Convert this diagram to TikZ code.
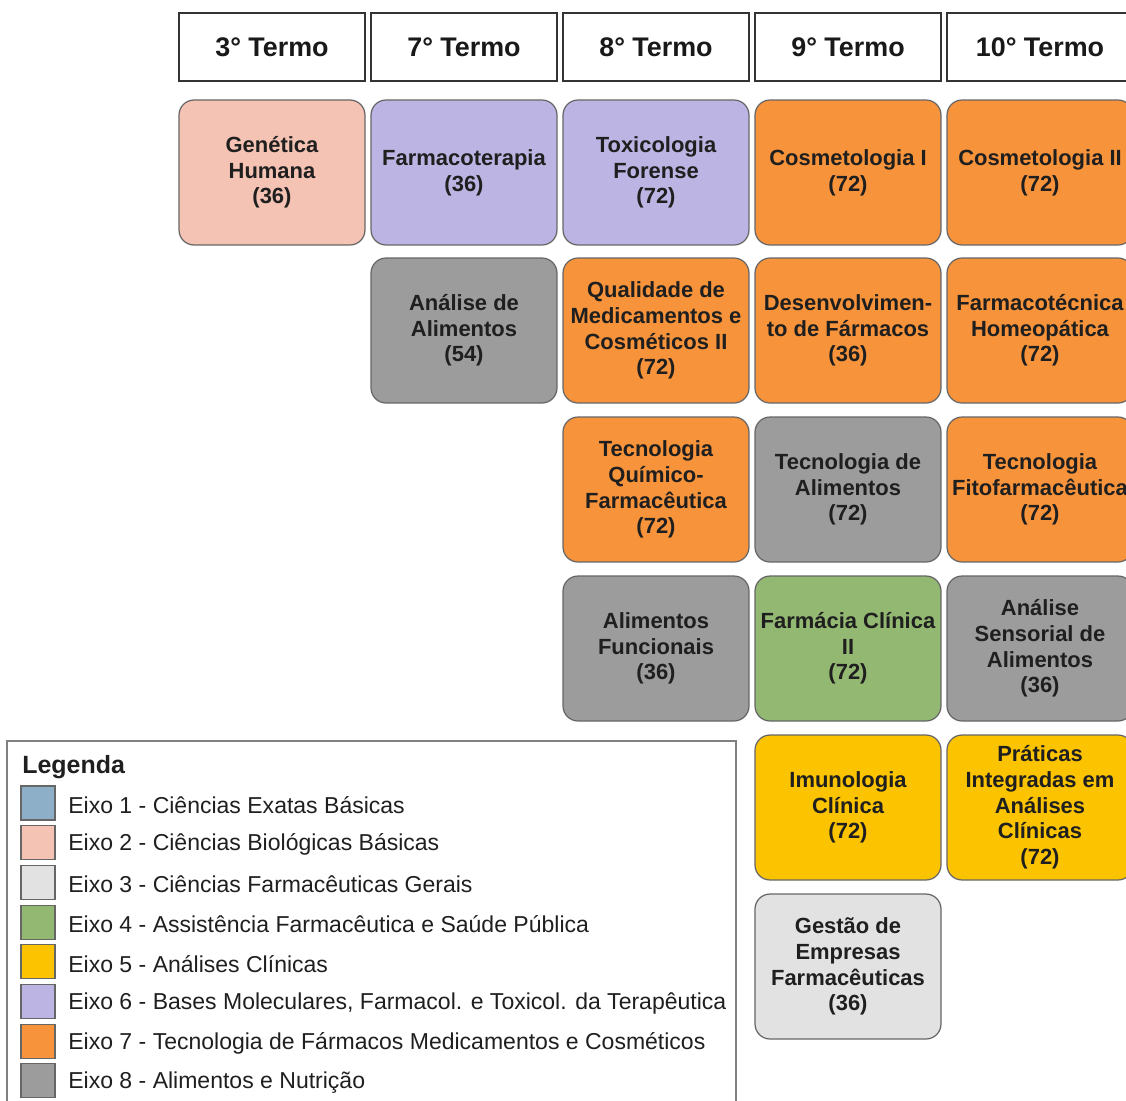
\documentclass[tikz,border=0pt]{standalone}
\usepackage{fontspec}
\setmainfont{Liberation Sans}
\usepackage{xcolor}
\usepackage{tikz}
\usetikzlibrary{calc}

\definecolor{eixoazul}{HTML}{8EAFC8}
\definecolor{eixorosa}{HTML}{F5C3B3}
\definecolor{eixoclaro}{HTML}{E2E2E2}
\definecolor{eixoverde}{HTML}{93B872}
\definecolor{eixoamarelo}{HTML}{FBC300}
\definecolor{eixolilas}{HTML}{BCB5E3}
\definecolor{eixolaranja}{HTML}{F7933B}
\definecolor{eixocinza}{HTML}{9C9C9C}

\begin{document}
\begin{tikzpicture}[x=0.02cm,y=-0.02cm,
    termo/.style={draw=black!80, line width=1.3pt, fill=white, minimum width=3.72cm, minimum height=1.36cm, inner sep=0pt, font=\fontsize{15.3}{18}\selectfont\bfseries, text=black!90},
    disc/.style={draw=black!60, line width=0.7pt, rounded corners=0.3cm, minimum width=3.72cm, minimum height=2.9cm, inner sep=0pt, align=center, font=\fontsize{12.5}{14.6}\selectfont\bfseries, text=black!88},
    swatch/.style={draw=black!60, line width=0.6pt, minimum size=0.68cm, inner sep=0pt},
    legtxt/.style={anchor=west, inner sep=0pt, font=\fontsize{13.1}{15}\selectfont, text=black!88}]
        %AREA
        \useasboundingbox (0,0) rectangle (1126,1100);
        \clip (0,0) rectangle (1126,1100);
        %TERMOS
        \node[termo] (t3) at (272,47) {3° Termo};
        \node[termo] (t7) at (464,47) {7° Termo};
        \node[termo] (t8) at (656,47) {8° Termo};
        \node[termo] (t9) at (848,47) {9° Termo};
        \node[termo] (t10) at (1040,47) {10° Termo};
        %3 TERMO
        \node[disc, fill=eixorosa] (genetica) at (272,172.5) {Genética\\Humana\\(36)};
        %7 TERMO
        \node[disc, fill=eixolilas] (farmacoterapia) at (464,172.5) {Farmacoterapia\\(36)};
        \node[disc, fill=eixocinza] (analise) at (464,330.5) {Análise de\\Alimentos\\(54)};
        %8 TERMO
        \node[disc, fill=eixolilas] (toxicologia) at (656,172.5) {Toxicologia\\Forense\\(72)};
        \node[disc, fill=eixolaranja] (qualidade) at (656,330.5) {Qualidade de\\Medicamentos e\\Cosméticos II\\(72)};
        \node[disc, fill=eixolaranja] (quimico) at (656,489.5) {Tecnologia\\Químico-\\Farmacêutica\\(72)};
        \node[disc, fill=eixocinza] (funcionais) at (656,648.5) {Alimentos\\Funcionais\\(36)};
        %9 TERMO
        \node[disc, fill=eixolaranja] (cosmetoI) at (848,172.5) {Cosmetologia I\\(72)};
        \node[disc, fill=eixolaranja] (desenv) at (848,330.5) {Desenvolvimen-\\to de Fármacos\\(36)};
        \node[disc, fill=eixocinza] (tecalim) at (848,489.5) {Tecnologia de\\Alimentos\\(72)};
        \node[disc, fill=eixoverde] (clinica) at (848,648.5) {Farmácia Clínica\\II\\(72)};
        \node[disc, fill=eixoamarelo] (imuno) at (848,807.5) {Imunologia\\Clínica\\(72)};
        \node[disc, fill=eixoclaro] (gestao) at (848,966.5) {Gestão de\\Empresas\\Farmacêuticas\\(36)};
        %10 TERMO
        \node[disc, fill=eixolaranja] (cosmetoII) at (1040,172.5) {Cosmetologia II\\(72)};
        \node[disc, fill=eixolaranja] (homeo) at (1040,330.5) {Farmacotécnica\\Homeopática\\(72)};
        \node[disc, fill=eixolaranja] (fito) at (1040,489.5) {Tecnologia\\Fitofarmacêutica\\(72)};
        \node[disc, fill=eixocinza] (sensorial) at (1040,648.5) {Análise\\Sensorial de\\Alimentos\\(36)};
        \node[disc, fill=eixoamarelo] (praticas) at (1040,807.5) {Práticas\\Integradas em\\Análises\\Clínicas\\(72)};
        %LEGENDA
        \draw[black!50, line width=0.6pt] (7,741) rectangle (736,1120);
        \node[anchor=west, inner sep=0pt, font=\fontsize{14.2}{17}\selectfont\bfseries, text=black!88] (legenda) at (22,767) {Legenda};
        \foreach \i/\cor/\txt in {0/eixoazul/{Eixo 1 - Ciências Exatas Básicas},
                                  1/eixorosa/{Eixo 2 - Ciências Biológicas Básicas},
                                  2/eixoclaro/{Eixo 3 - Ciências Farmacêuticas Gerais},
                                  3/eixoverde/{Eixo 4 - Assistência Farmacêutica e Saúde Pública},
                                  4/eixoamarelo/{Eixo 5 - Análises Clínicas},
                                  5/eixolilas/{Eixo 6 - Bases Moleculares, Farmacol. e Toxicol. da Terapêutica},
                                  6/eixolaranja/{Eixo 7 - Tecnologia de Fármacos Medicamentos e Cosméticos},
                                  7/eixocinza/{Eixo 8 - Alimentos e Nutrição}} {
            \node[swatch, fill=\cor] (cor\i) at (38,803+39.7*\i) {};
            \node[legtxt] (txt\i) at (68,805+39.7*\i) {\txt};
        }
    \end{tikzpicture}
\end{document}
